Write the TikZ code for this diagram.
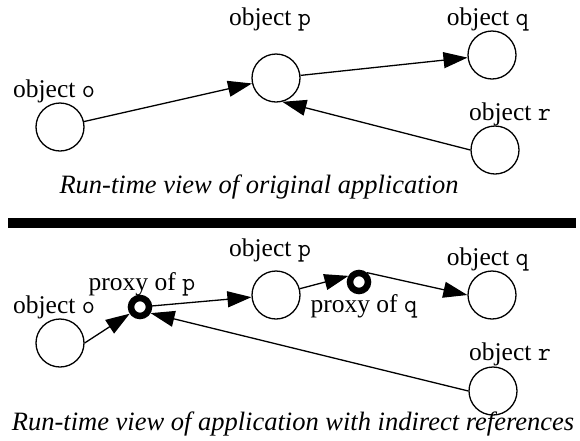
\documentclass[tikz,border=0pt]{standalone}
\usepackage{fontspec}
\setmainfont{Liberation Serif}
\usetikzlibrary{arrows.meta}
\tikzset{
  obj/.style={draw,circle,line width=1.3pt,minimum size=48pt,inner sep=0pt},
  proxy/.style={draw,circle,line width=6.5pt,minimum size=18pt,inner sep=0pt},
  lbl/.style={anchor=base,inner sep=0pt,font=\fontsize{25.5}{28}\selectfont},
  viewcaption/.style={lbl,font=\fontsize{26.5}{30}\selectfont\itshape},
  ref/.style={line width=1.3pt,-{Triangle[length=24pt,width=16pt]}}
}

\begin{document}
\begin{tikzpicture}[x=1pt,y=-1pt]
            \useasboundingbox (0,0) rectangle (580,440);
            % original application
            \node (o1) at (60,127)[obj]{};
            \node (p1) at (276,78)[obj]{};
            \node (q1) at (492,55)[obj]{};
            \node (r1) at (495,150)[obj]{};
            \node (lo1) at (54,97)[lbl]{object \texttt{o}};
            \node (lp1) at (270,25)[lbl]{object \texttt{p}};
            \node (lq1) at (488,25)[lbl]{object \texttt{q}};
            \node (lr1) at (510,120)[lbl]{object \texttt{r}};
            \node (c1) at (259,193)[viewcaption]{Run-time view of original application};
            \draw [ref] (o1)--(p1);
            \draw [ref] (p1)--(q1);
            \draw [ref] (r1.west)--(p1.-75);
            % separator
            \node (bar) at (292,222.5)[fill=black,minimum width=568pt,minimum height=10pt,inner sep=0pt]{};
            % with indirect references
            \node (o2) at (60,343)[obj]{};
            \node (pp) at (140,307)[proxy]{};
            \node (p2) at (276,295)[obj]{};
            \node (pq) at (359,282)[proxy]{};
            \node (q2) at (492,295)[obj]{};
            \node (r2) at (493,391)[obj]{};
            \node (lo2) at (54,313)[lbl]{object \texttt{o}};
            \node (lpp) at (142,290)[lbl]{proxy of \texttt{p}};
            \node (lp2) at (270,256)[lbl]{object \texttt{p}};
            \node (lpq) at (364,312)[lbl]{proxy of \texttt{q}};
            \node (lq2) at (488,265)[lbl]{object \texttt{q}};
            \node (lr2) at (510,360)[lbl]{object \texttt{r}};
            \node (c2) at (293,430)[viewcaption]{Run-time view of application with indirect references};
            \draw [ref] (o2.east)--(pp);
            \draw [ref] (pp)--(p2);
            \draw [ref] (p2)--(pq.150);
            \draw [ref] (pq.50)--(q2.west);
            \draw [ref] (r2.west)--(pp.-30);
        \end{tikzpicture}
\end{document}
